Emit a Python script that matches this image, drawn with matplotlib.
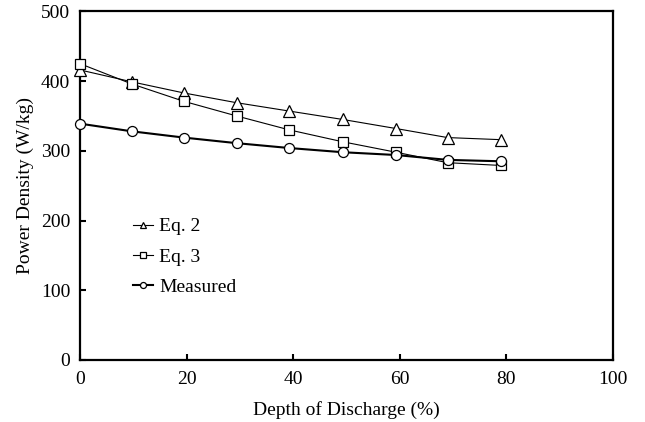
import matplotlib
matplotlib.use("Agg")
import matplotlib.pyplot as plt

# Depth of discharge (%) and power density (W/kg)
dod = [0, 9.7, 19.5, 29.4, 39.3, 49.3, 59.3, 69, 79]
eq2 = [416, 399, 383, 369, 357, 345, 332, 319, 316]
eq3 = [425, 396, 371, 350, 330, 313, 298, 283, 279]
measured = [339, 328, 319, 311, 304, 298, 294, 287, 285]

x_ticks = [0, 20, 40, 60, 80, 100]
y_ticks = [0, 100, 200, 300, 400, 500]

plt.rcParams['font.family'] = ['Liberation Serif', 'DejaVu Serif']
plt.rcParams['font.size'] = 14

fig = plt.figure(figsize=(6.45, 4.22), dpi=100)
ax = fig.add_axes([0.124, 0.147, 0.826, 0.826])

ax.plot(dod, eq2, color='black', lw=0.8, marker='^', ms=8, mfc='white',
        mec='black', mew=0.9, label='Eq. 2', clip_on=False, zorder=3)
ax.plot(dod, eq3, color='black', lw=0.8, marker='s', ms=6.8, mfc='white',
        mec='black', mew=0.9, label='Eq. 3', clip_on=False, zorder=3)
ax.plot(dod, measured, color='black', lw=1.5, marker='o', ms=7.2, mfc='white',
        mec='black', mew=0.9, label='Measured', clip_on=False, zorder=4)

ax.set_xlim(0, 100)
ax.set_ylim(0, 500)
ax.set_xticks(x_ticks)
ax.set_yticks(y_ticks)
ax.tick_params(direction='in', length=4.5, width=1.5, top=False, right=False)
ax.tick_params(axis='x', pad=8)
ax.tick_params(axis='y', pad=7)
for s in ax.spines.values():
    s.set_linewidth(1.6)

ax.set_xlabel('Depth of Discharge (%)', labelpad=9)
ax.set_ylabel('Power Density (W/kg)', labelpad=5)

ax.legend(loc='upper left', bbox_to_anchor=(0.085, 0.43), frameon=False,
          markerscale=0.6, handlelength=1.05, handletextpad=0.3,
          labelspacing=0.65, borderaxespad=0)

fig.savefig('out.png', dpi=100)
